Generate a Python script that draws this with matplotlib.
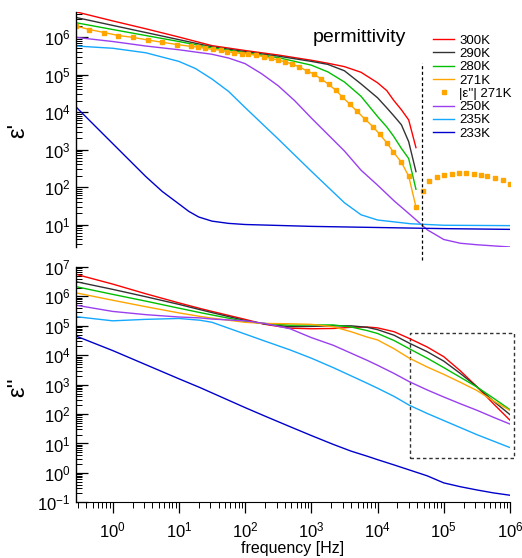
"""Dielectric spectra: eps' (top) and eps'' (bottom) vs frequency for several temperatures."""
import numpy as np
import matplotlib; matplotlib.use("Agg"); import matplotlib.pyplot as plt
from matplotlib.ticker import LogLocator, LogFormatterSciNotation, NullFormatter, NullLocator, FixedLocator
from matplotlib.patches import Rectangle

plt.rcParams["font.family"] = ["Liberation Sans", "DejaVu Sans"]
plt.rcParams["mathtext.fontset"] = "custom"
plt.rcParams["mathtext.rm"] = "Liberation Sans"
plt.rcParams["mathtext.it"] = "Liberation Sans:italic"

# ---- data (log10 of frequency in Hz, log10 of permittivity) ----
temps = ["300K", "290K", "280K", "271K", "250K", "235K", "233K"]
colors = {"300K": "#ff0000", "290K": "#333333", "280K": "#00c000", "271K": "#ffa500",
          "250K": "#9a3ff0", "235K": "#14a8ff", "233K": "#0000cc"}

# top panel, eps'
lf_top = [-0.55, 0, 0.5, 1.0, 1.5, 2.0, 2.5, 3.0, 3.25, 3.5, 3.75, 4.0, 4.14, 4.24, 4.36, 4.47, 4.58]
e1_300 = [6.67, 6.43, 6.22, 6.00, 5.77, 5.64, 5.52, 5.38, 5.30, 5.21, 5.06, 4.78, 4.57, 4.32, 4.06, 3.79, 3.05]
e1_290 = [6.52, 6.31, 6.12, 5.93, 5.74, 5.61, 5.49, 5.35, 5.27, 5.10, 4.75, 4.38, 4.11, 3.91, 3.66, 3.21, 2.41]
e1_280 = [6.38, 6.20, 6.04, 5.88, 5.71, 5.58, 5.45, 5.25, 5.07, 4.80, 4.42, 3.88, 3.60, 3.36, 3.03, 2.76, 1.94]

lf_271 = [-0.55, -0.35, -0.13, 0.085, 0.31, 0.53, 0.75, 0.97, 1.18, 1.29, 1.40, 1.51, 1.63, 1.72,
          1.84, 1.95, 2.05, 2.16, 2.28, 2.39, 2.49, 2.60, 2.71, 2.81, 2.93, 3.04, 3.15, 3.26, 3.37,
          3.47, 3.58, 3.69, 3.81, 3.93, 4.03, 4.14, 4.24, 4.36, 4.47, 4.58]
e1_271 = [6.29, 6.20, 6.12, 6.04, 5.99, 5.92, 5.86, 5.80, 5.75, 5.73, 5.70, 5.67, 5.65, 5.61,
          5.58, 5.56, 5.55, 5.51, 5.48, 5.43, 5.39, 5.34, 5.28, 5.21, 5.10, 5.01, 4.88, 4.74, 4.58,
          4.40, 4.21, 4.02, 3.81, 3.61, 3.41, 3.18, 2.93, 2.66, 2.29, 1.47]
# |eps| 271K beyond the sign change
lf_abs = [4.68, 4.78, 4.90, 5.01, 5.12, 5.23, 5.34, 5.45, 5.56, 5.66, 5.77, 5.89, 6.00]
e_abs = [1.90, 2.16, 2.26, 2.31, 2.35, 2.38, 2.37, 2.35, 2.31, 2.29, 2.23, 2.18, 2.07]

lf_250 = [-0.55, 0, 0.5, 1.0, 1.5, 1.75, 2.0, 2.25, 2.5, 2.75, 3.0, 3.25, 3.5, 3.75, 4.0, 4.25,
          4.5, 4.75, 5.0, 5.25, 5.5, 6.0]
e1_250 = [5.99, 5.88, 5.76, 5.66, 5.54, 5.44, 5.29, 5.02, 4.70, 4.30, 3.84, 3.40, 2.96, 2.45, 2.05,
          1.63, 1.25, 0.86, 0.60, 0.50, 0.46, 0.40]
lf_235 = [-0.55, 0, 0.5, 1.0, 1.25, 1.5, 1.75, 2.0, 2.25, 2.5, 2.75, 3.0, 3.25, 3.5, 3.75, 4.0,
          4.5, 5.0, 6.0]
e1_235 = [5.76, 5.70, 5.58, 5.35, 5.16, 4.88, 4.55, 4.12, 3.70, 3.28, 2.85, 2.42, 2.00, 1.58, 1.26,
          1.12, 1.02, 0.98, 0.97]
lf_233 = [-0.55, -0.25, 0, 0.25, 0.5, 0.75, 1.0, 1.15, 1.3, 1.5, 1.75, 2.0, 3.0, 4.0, 5.0, 6.0]
e1_233 = [4.13, 3.60, 3.16, 2.72, 2.28, 1.88, 1.55, 1.35, 1.20, 1.09, 1.03, 1.00, 0.95, 0.92, 0.89, 0.87]

# bottom panel, eps''
lf_bot = [-0.55, 0, 0.5, 1.0, 1.32, 1.5, 2.0, 2.3, 2.68, 3.0, 3.33, 3.6, 3.84, 4.0, 4.25, 4.48,
          4.75, 5.0, 5.25, 5.5, 5.75, 6.0]
e2 = {
    "300K": [6.75, 6.42, 6.09, 5.78, 5.59, 5.49, 5.22, 5.05, 4.92, 4.90, 4.91, 4.95, 4.96, 4.93, 4.80,
             4.57, 4.28, 3.95, 3.47, 2.93, 2.35, 1.79],
    "290K": [6.50, 6.24, 5.99, 5.73, 5.55, 5.45, 5.18, 5.06, 4.97, 4.98, 5.00, 5.00, 4.95, 4.87, 4.68,
             4.41, 4.12, 3.80, 3.38, 2.93, 2.44, 1.98],
    "280K": [6.33, 6.07, 5.84, 5.60, 5.45, 5.37, 5.15, 5.08, 5.02, 5.03, 5.03, 4.96, 4.84, 4.74, 4.50,
             4.22, 3.90, 3.58, 3.25, 2.92, 2.54, 2.15],
    "271K": [6.12, 5.87, 5.65, 5.44, 5.32, 5.26, 5.12, 5.08, 5.07, 5.05, 4.97, 4.80, 4.62, 4.52, 4.22,
             3.90, 3.60, 3.35, 3.08, 2.80, 2.45, 2.12],
    "250K": [5.70, 5.49, 5.38, 5.30, 5.27, 5.23, 5.17, 5.08, 4.90, 4.60, 4.34, 4.07, 3.83, 3.66, 3.38,
             3.10, 2.82, 2.58, 2.35, 2.13, 1.89, 1.66],
    "235K": [5.31, 5.17, 5.22, 5.25, 5.19, 5.12, 4.72, 4.48, 4.18, 3.90, 3.58, 3.30, 3.05, 2.88, 2.60,
             2.30, 2.02, 1.78, 1.54, 1.30, 1.08, 0.86],
    "233K": [4.65, 4.16, 3.68, 3.20, 2.90, 2.72, 2.22, 1.93, 1.57, 1.27, 0.97, 0.74, 0.57, 0.45, 0.27,
             0.10, -0.10, -0.34, -0.47, -0.58, -0.68, -0.76],
}

f_sign = 10 ** 4.67            # dashed marker: sign change of eps' at 271K
box_f = (3.1e4, 1.13e6)        # dashed zoom box in eps''
box_e = (3.2, 5.8e4)


def p(v):
    return 10 ** np.asarray(v, dtype=float)


W, H = 522, 558
fig = plt.figure(figsize=(W / 100, H / 100), dpi=100)
ax1 = fig.add_axes([76 / W, 1 - 246.7 / H, 434 / W, 235 / H])
ax2 = fig.add_axes([76 / W, 1 - 502.3 / H, 434 / W, 235.3 / H])
lw = 1.0

top = {"300K": (lf_top, e1_300), "290K": (lf_top, e1_290), "280K": (lf_top, e1_280)}
for T in ["300K", "290K", "280K"]:
    ax1.plot(p(top[T][0]), p(top[T][1]), color=colors[T], lw=lw, label=T)
ax1.plot(p(lf_271), p(e1_271), color=colors["271K"], lw=lw, label="271K")
ax1.plot(p(lf_271 + lf_abs), p(e1_271 + e_abs), ls="none", marker="s", ms=3.2,
         color=colors["271K"], label="|ε''| 271K")
ax1.plot(p(lf_250), p(e1_250), color=colors["250K"], lw=lw, label="250K")
ax1.plot(p(lf_235), p(e1_235), color=colors["235K"], lw=lw, label="235K")
ax1.plot(p(lf_233), p(e1_233), color=colors["233K"], lw=lw, label="233K")

for T in temps:
    ax2.plot(p(lf_bot), p(e2[T]), color=colors[T], lw=lw)

xlim = (10 ** -0.553, 1e6)
yt = {ax1: range(1, 7), ax2: range(-1, 8)}
for ax in (ax1, ax2):
    ax.set_xscale("log"); ax.set_yscale("log"); ax.set_xlim(*xlim)
    for s in ("top", "right"):
        ax.spines[s].set_visible(False)
    ax.spines["left"].set_linewidth(1.0)
    ax.yaxis.set_major_locator(FixedLocator([10.0 ** k for k in yt[ax]]))
    ax.yaxis.set_minor_locator(LogLocator(base=10, subs=np.arange(2, 10), numticks=100))
    ax.yaxis.set_minor_formatter(NullFormatter())
    ax.yaxis.set_major_formatter(LogFormatterSciNotation())
    ax.tick_params(axis="y", which="major", direction="in", length=8.5, width=0.9, labelsize=12, pad=4)
    ax.tick_params(axis="y", which="minor", direction="in", length=4.5, width=0.7)
ax1.set_ylim(10 ** 0.408, 10 ** 6.675)
ax2.set_ylim(1e-1, 1e7)
ax1.spines["bottom"].set_visible(False)
ax1.xaxis.set_major_locator(NullLocator()); ax1.xaxis.set_minor_locator(NullLocator())
ax2.xaxis.set_major_locator(FixedLocator([10.0 ** k for k in range(0, 7)]))
ax2.xaxis.set_major_formatter(LogFormatterSciNotation())
ax2.xaxis.set_minor_locator(LogLocator(base=10, subs=np.arange(2, 10), numticks=100))
ax2.xaxis.set_minor_formatter(NullFormatter())
ax2.tick_params(axis="x", which="major", direction="out", length=8, width=0.9, labelsize=12, pad=5)
ax2.tick_params(axis="x", which="minor", direction="out", length=4, width=0.7)

# dashed line at the sign change, running past the top panel
ax1.plot([f_sign, f_sign], [1.14, 2.0e5], ls=(0, (2.5, 2)), color="k", lw=0.9, clip_on=False)
ax2.add_patch(Rectangle((box_f[0], box_e[0]), box_f[1] - box_f[0], box_e[1] - box_e[0], fill=False,
                        ls=(0, (2.5, 2)), ec="#333333", lw=1.0, clip_on=False))

ax1.legend(loc="upper left", bbox_to_anchor=(433 / W, 1 - 34.5 / H), bbox_transform=fig.transFigure,
           frameon=False, fontsize=9.5, handlelength=1.6, handletextpad=0.4, labelspacing=0.08,
           borderpad=0, borderaxespad=0)
fig.text(313 / W, 1 - 38 / H, "permittivity", fontsize=14, ha="left", va="center")
fig.text(18 / W, 1 - 130 / H, "ε'", fontsize=17, rotation=90, ha="center", va="center")
fig.text(18 / W, 1 - 387 / H, "ε''", fontsize=17, rotation=90, ha="center", va="center")
fig.text(293 / W, 1 - 549 / H, "frequency [Hz]", fontsize=11.5, ha="center", va="center")

fig.savefig("out.png", dpi=100)
